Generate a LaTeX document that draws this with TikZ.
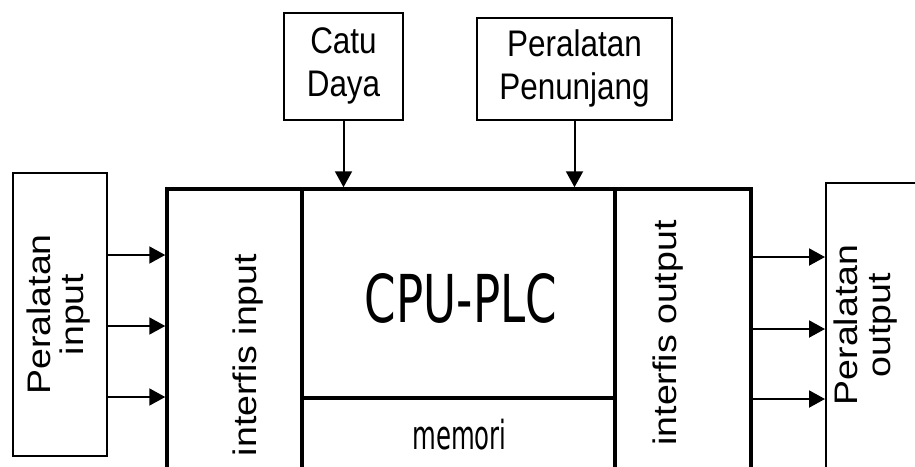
\documentclass[tikz,border=0pt]{standalone}
\usepackage{fontspec}
\setmainfont{Liberation Sans}
\newfontfamily\dvs{DejaVu Sans}
\usepackage{graphicx}
\usetikzlibrary{arrows.meta}
\newcommand\mytwo[2]{\begin{tabular}{@{}c@{}}#1\\#2\end{tabular}}
\begin{document}
\begin{tikzpicture}[x=1pt,y=-1pt,
  thinbox/.style={draw, line width=2pt, inner sep=0pt},
  thickbox/.style={draw, line width=3.5pt, inner sep=0pt},
  arr/.style={line width=2pt, -{Triangle[length=16pt,width=17pt]}},
  hlbl/.style={inner sep=0pt, font=\fontsize{37}{43}\selectfont},
  vlbl/.style={inner sep=0pt, rotate=90, font=\fontsize{37.5}{38}\selectfont}]
\useasboundingbox (0,0) rectangle (915,466);
\clip (0,0) rectangle (915,466);
% top boxes
\node[thinbox, minimum width=119pt, minimum height=107pt] (catu) at (343.5,66.5) {};
\node[hlbl] (catul) at (catu.center) {\scalebox{0.85}[1]{\mytwo{Catu}{Daya}}};
\node[thinbox, minimum width=195pt, minimum height=102pt] (pen) at (574.5,69) {};
\node[hlbl] (penl) at (pen.center) {\scalebox{0.85}[1]{\mytwo{Peralatan}{Penunjang}}};
% input device
\node[thinbox, minimum width=94pt, minimum height=283pt] (pin) at (60,314.5) {};
\node[vlbl] (pinl) at (pin.center) {\scalebox{1}[0.87]{\mytwo{Peralatan}{input}}};
% PLC body
\node[thickbox, minimum width=135pt, minimum height=311pt] (intin) at (234.5,344.5) {};
\node[thickbox, minimum width=313pt, minimum height=209pt] (cpu) at (458.5,293.5) {};
\node[thickbox, minimum width=313pt, minimum height=102pt] (mem) at (458.5,449) {};
\node[thickbox, minimum width=136pt, minimum height=311pt] (intout) at (683,344.5) {};
\node[vlbl] (tin) at (248,355) {\scalebox{1}[0.87]{interfis input}};
\node[vlbl] (tout) at (668,333) {\scalebox{1}[0.87]{interfis output}};
\node[anchor=base, inner sep=0pt] (cpul) at (461,322) {\resizebox{192pt}{49pt}{\dvs CPU-PLC}};
\node[anchor=base, inner sep=0pt] (meml) at (459.5,449) {\scalebox{0.61}[1]{\fontsize{40}{40}\selectfont\dvs memori}};
% output device
\node[draw, line width=2pt, inner sep=0pt, minimum width=114pt, minimum height=317pt] (pout) at (883,341.5) {};
\node[vlbl] (poutl) at (867,325) {\scalebox{1}[0.87]{\mytwo{Peralatan}{output}}};
% arrows
\draw[arr] (catu.south) -- (catu.south |- cpu.north);
\draw[arr] (pen.south) -- (pen.south |- cpu.north);
\draw[arr] (pin.east |- 0,255) -- (intin.west |- 0,255);
\draw[arr] (pin.east |- 0,326) -- (intin.west |- 0,326);
\draw[arr] (pin.east |- 0,397) -- (intin.west |- 0,397);
\draw[arr] (intout.east |- 0,257) -- (pout.west |- 0,257);
\draw[arr] (intout.east |- 0,329) -- (pout.west |- 0,329);
\draw[arr] (intout.east |- 0,399) -- (pout.west |- 0,399);
\end{tikzpicture}
\end{document}
